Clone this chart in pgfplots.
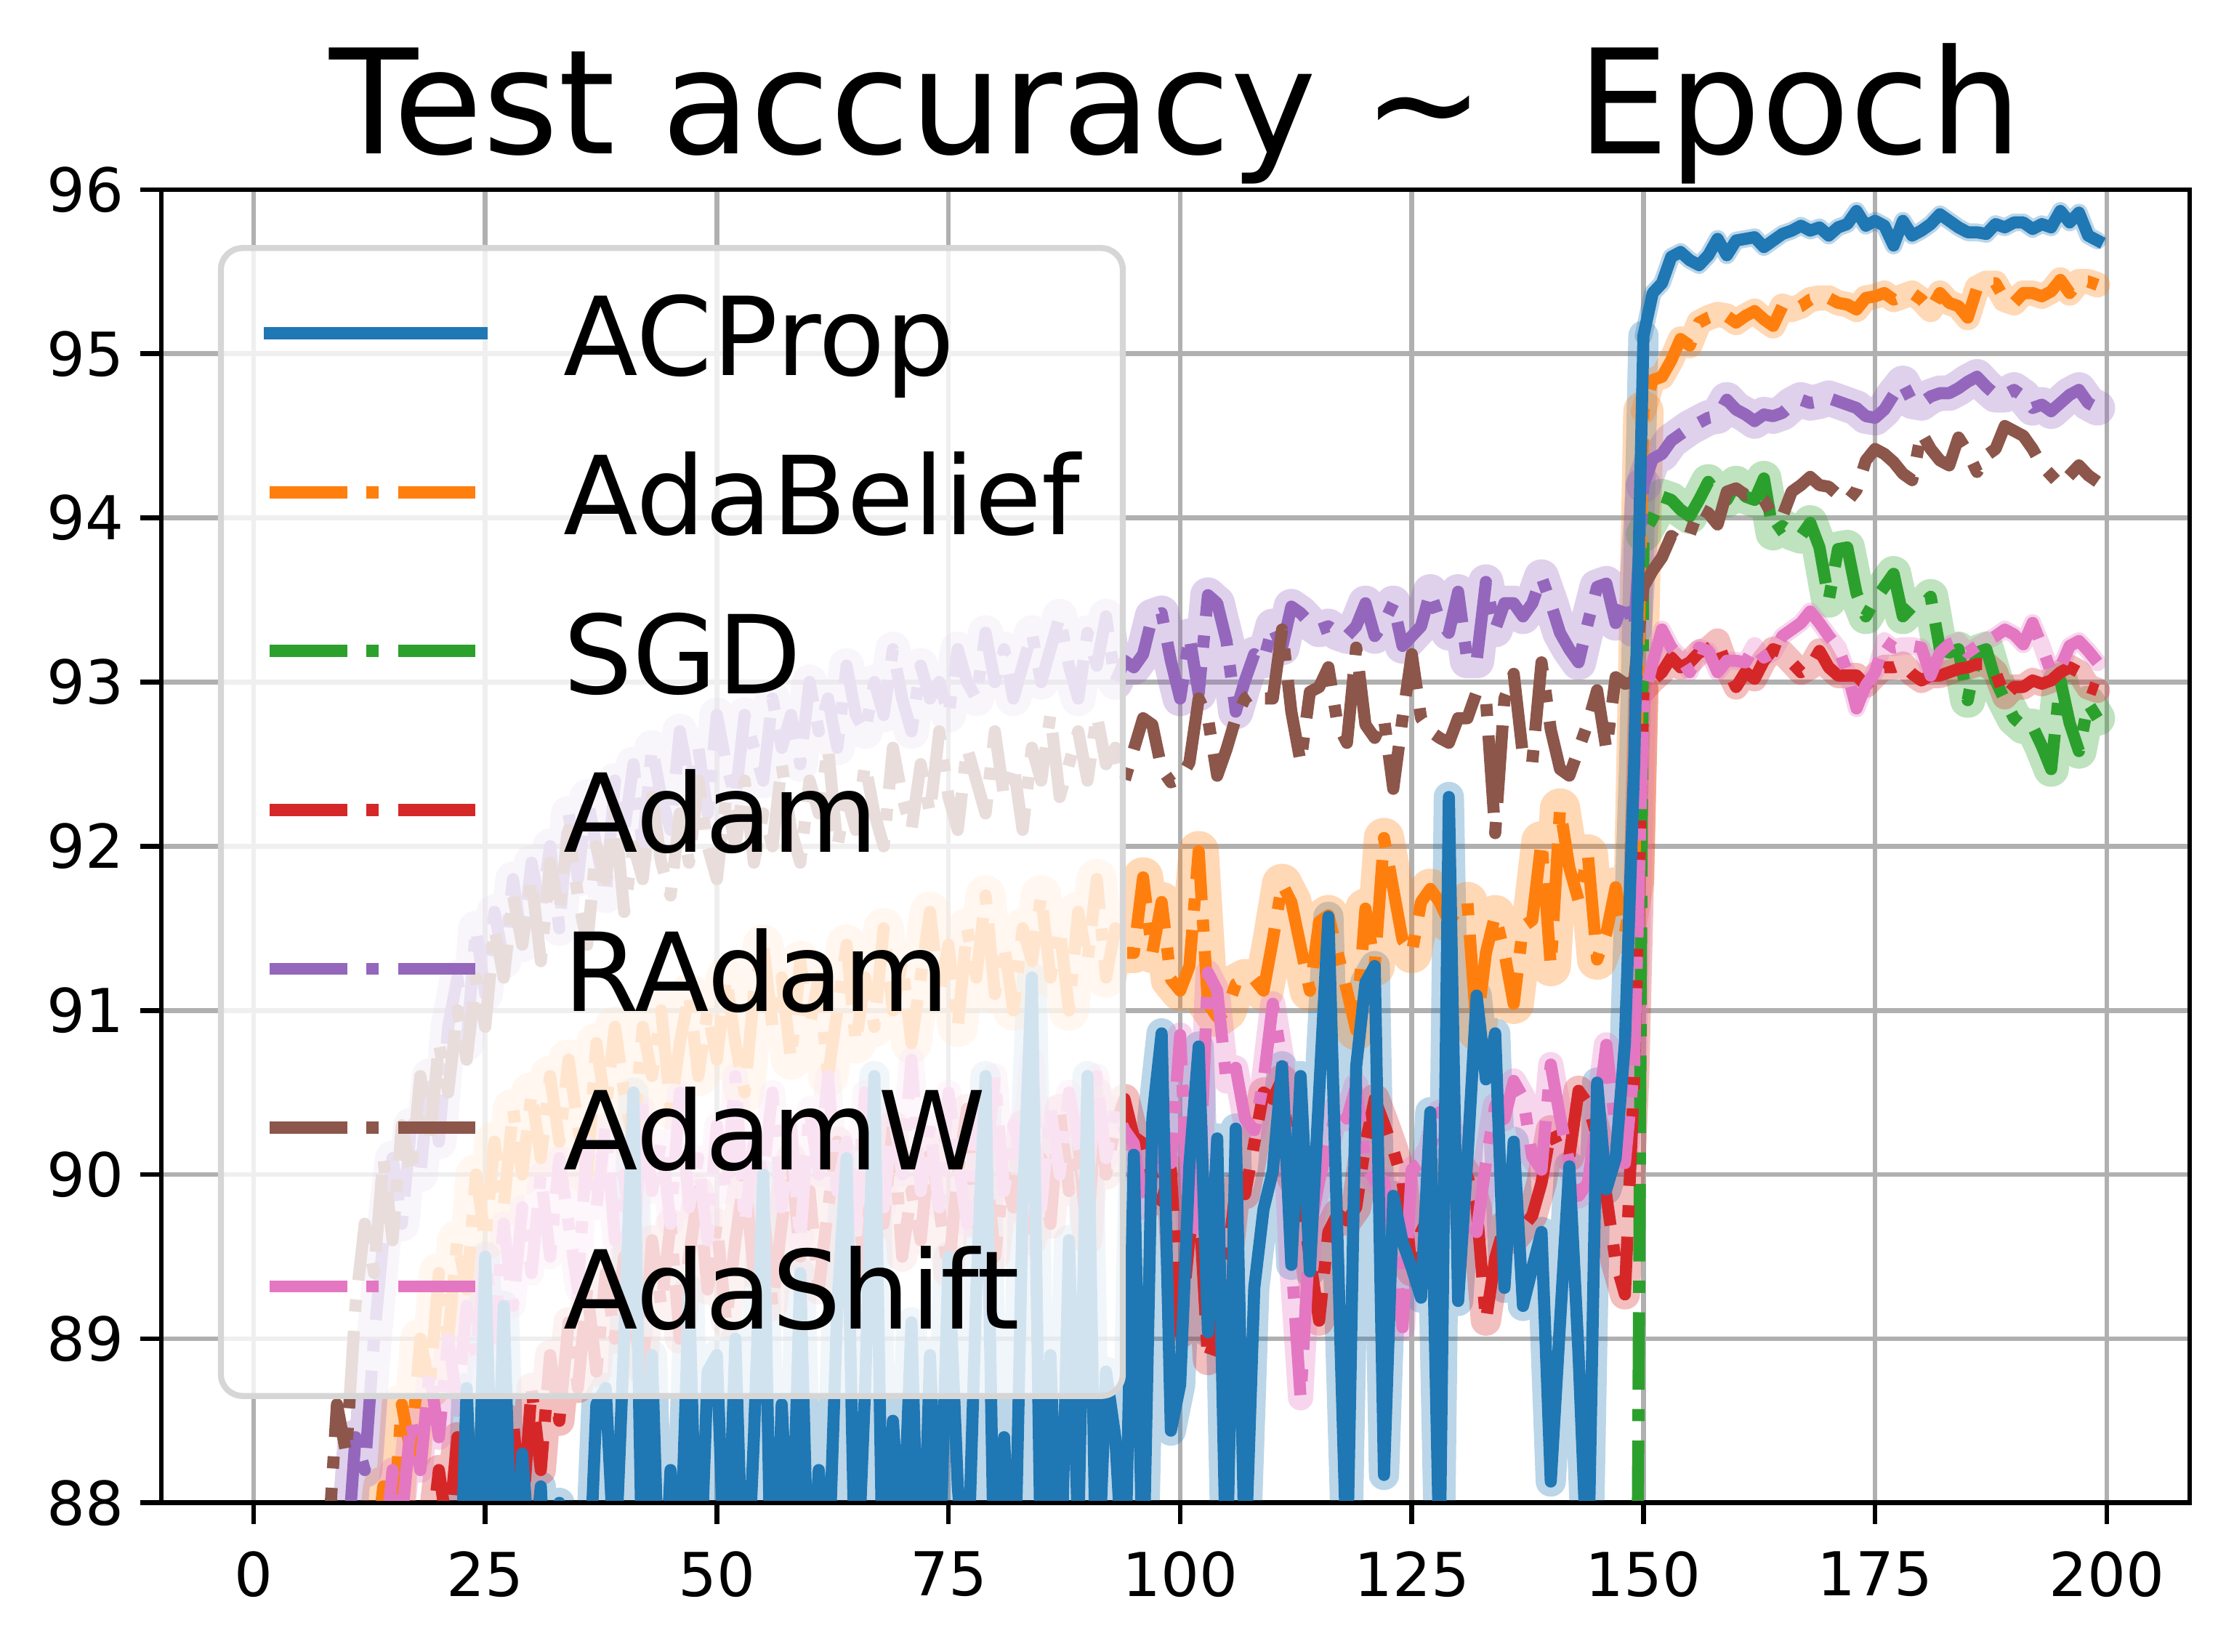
\documentclass[border=0pt]{standalone}
\usepackage{fontspec}
\setmainfont{DejaVu Sans}
\usepackage{pgfplots}
\pgfplotsset{compat=1.18}
\usepackage{pgfplotstable}
\definecolor{c0}{HTML}{1F77B4}
\definecolor{c1}{HTML}{FF7F0E}
\definecolor{c2}{HTML}{2CA02C}
\definecolor{c3}{HTML}{D62728}
\definecolor{c4}{HTML}{9467BD}
\definecolor{c5}{HTML}{8C564B}
\definecolor{c6}{HTML}{E377C2}
\definecolor{gridgray}{HTML}{B0B0B0}
\definecolor{legedge}{HTML}{D6D6D6}
\tikzset{
  dd/.style={line width=2.4pt, dash pattern=on 15.36pt off 3.84pt on 2.4pt off 3.84pt, line cap=butt, line join=round},
  solidl/.style={line width=2.4pt, line cap=rect, line join=round},
  band/.style={line join=round, line cap=round, draw opacity=0.3},
}
% e: epoch, a: ACProp, b: AdaBelief, s: SGD, d: Adam, r: RAdam, w: AdamW, h: AdaShift
\pgfplotstableread{
e a b s d r w h
0 60 65 nan 60 70 72 62
1 70 72 nan 68 75 77 70
2 74 76 nan 72 78 80 74
3 77 79 nan 75 80 82.5 77
4 79 81 nan 77.5 82 84 79.5
5 80.5 82.5 nan 79.5 83.5 85.5 81.3
6 81.5 83.7 nan 81 84.6 86.5 82.7
7 82.5 84.6 nan 82.3 85.5 87.3 83.8
8 83 85.3 nan 83.3 86.3 87.7 84.7
9 83.8 85.9 nan 84.1 87.0 88.6 85.4
10 84.2 86.4 nan 84.8 87.6 88.3 86.0
11 84.8 86.9 nan 85.4 88.4 89.2 86.5
12 85 87.3 nan 85.9 88.2 89.7 86.9
13 85.5 87.6 nan 86.3 89.0 89.4 87.3
14 85.7 88.1 nan 86.6 89.6 90.1 87.6
15 86 87.8 nan 86.9 90.1 89.6 88.2
16 86.2 88.6 nan 87.1 89.7 90.3 87.9
17 86.5 88.3 nan 87.3 90.3 90.0 88.5
18 86.3 89.0 nan 87.5 90.0 90.6 88.2
19 86.8 88.7 nan 87.7 90.6 90.2 88.8
20 86.6 89.4 nan 88.2 90.2 90.8 88.4
21 87.2 89.0 nan 87.8 90.9 90.5 89.0
22 86.9 89.6 nan 88.4 91.2 91.0 88.6
23 88.7 89.3 nan 88.0 90.8 90.7 89.2
24 87.2 90.0 nan 87.7 91.5 91.2 88.9
25 89.5 89.6 nan 88.3 91.1 90.9 89.5
26 87.4 90.2 nan 88.6 91.6 91.5 89.0
27 89.2 89.8 nan 88.0 91.3 91.2 89.7
28 87.3 90.4 nan 88.5 91.8 91.7 89.2
29 88.3 90.0 nan 87.9 91.4 91.4 89.8
30 87.5 90.5 nan 88.7 91.9 91.8 89.4
31 88.1 90.1 nan 88.2 91.6 91.3 90.0
32 86.9 90.6 nan 88.9 92.0 91.9 89.5
33 88.0 90.2 nan 88.5 91.5 91.6 90.1
34 87.3 90.7 nan 89.1 92.2 92.1 89.7
35 87.8 90.3 nan 88.7 91.8 91.7 89.3
36 87.2 90.0 nan 89.3 92.3 91.4 90.2
37 88.6 90.8 nan 88.8 92.0 92.0 89.8
38 88.7 90.4 nan 89.4 91.7 91.8 90.3
39 87.6 90.9 nan 89.0 92.4 92.2 89.6
40 89.0 90.5 nan 89.5 92.1 91.6 90.0
41 90.5 90.2 nan 89.1 92.5 92.0 89.5
42 87.4 90.9 nan 88.8 92.0 91.8 90.4
43 88.9 90.6 nan 89.6 92.6 92.3 89.9
44 87.0 91.0 nan 89.2 92.3 91.9 90.2
45 88.2 90.4 nan 89.7 92.1 91.7 89.7
46 87.5 90.8 nan 89.0 92.7 92.2 90.5
47 89.3 91.1 nan 89.5 92.4 91.9 89.8
48 87.2 90.6 nan 89.9 92.6 92.4 90.1
49 88.8 91.0 nan 89.3 92.2 92.0 89.6
50 88.9 90.7 nan 89.7 92.8 91.8 90.3
51 87.3 91.2 nan 89.1 92.5 92.3 89.9
52 89.0 90.8 nan 89.6 92.3 92.0 90.6
53 87.1 90.5 nan 90.0 92.8 92.4 89.7
54 88.4 91.1 nan 89.4 92.6 91.9 90.2
55 90.0 91.4 nan 89.8 92.4 92.2 90.0
56 87.0 90.9 nan 89.2 92.9 92.0 90.5
57 88.6 91.2 nan 89.7 92.6 92.5 89.8
58 87.4 90.7 nan 90.1 92.8 92.1 90.3
59 89.4 91.3 nan 89.5 92.5 91.9 89.6
60 87.2 90.9 nan 89.9 93.0 92.4 90.4
61 88.2 91.2 nan 89.3 92.7 92.2 90.0
62 87.5 90.6 nan 89.8 92.9 92.6 90.6
63 89.2 91.0 nan 90.2 92.6 92.0 89.9
64 90.1 91.4 nan 89.6 93.1 92.3 90.2
65 87.3 90.8 nan 89.9 92.8 92.1 89.7
66 88.7 91.2 nan 89.4 92.7 92.5 90.5
67 90.6 90.9 nan 90.1 93.0 92.2 90.1
68 87.2 91.5 nan 89.7 92.8 92.0 89.8
69 88.5 91.0 nan 90.3 93.2 92.6 90.4
70 87.6 91.3 nan 89.5 92.9 92.3 90.0
71 89.1 90.8 nan 89.9 92.7 92.1 90.7
72 87.0 91.2 nan 89.6 93.1 92.5 89.9
73 88.9 91.6 nan 90.2 92.9 92.2 90.3
74 87.5 91.1 nan 89.8 93.0 92.7 89.8
75 89.5 91.4 nan 89.4 92.8 92.3 90.5
76 88.1 90.9 nan 90.0 93.2 92.1 90.1
77 87.4 91.5 nan 90.4 93.0 92.6 89.7
78 89.3 91.2 nan 89.7 92.9 92.4 90.4
79 90.6 91.7 nan 90.1 93.3 92.2 90.0
80 87.3 91.1 nan 89.5 93.0 92.7 90.6
81 88.4 91.4 nan 90.0 93.2 92.3 89.9
82 87.1 91.0 nan 89.8 92.9 92.5 90.3
83 89.8 91.5 nan 90.3 93.1 92.1 90.1
84 91.2 91.3 nan 89.6 93.3 92.6 90.7
85 87.5 91.7 nan 90.1 93.0 92.4 89.8
86 88.9 91.2 nan 89.7 93.2 92.8 90.4
87 87.2 91.5 nan 90.4 93.4 92.3 90.0
88 89.6 91.0 nan 89.9 93.1 92.5 90.5
89 87.8 91.6 nan 90.2 92.9 92.7 90.2
90 90.6 91.3 nan 89.6 93.3 92.4 89.9
91 87.3 91.8 nan 90.5 93.1 92.8 90.6
92 88.8 91.2 nan 90.0 93.4 92.5 90.1
93 88.4 91.5 nan 90.3 93.0 92.6 90.4
94 87.4 91.35 nan 90.46 93.13 92.4 90.27
95 90.12 91.35 nan 90.23 93.09 92.59 90.19
96 87.5 91.81 nan 90.19 93.17 92.78 89.80
97 90.34 91.35 nan 89.99 93.40 92.74 89.99
98 90.86 91.66 nan 89.84 93.42 92.47 90.19
99 88.44 91.19 nan 90.03 93.13 92.39 90.07
100 88.72 91.12 nan 89.03 92.90 92.41 90.85
101 90.06 91.27 nan 89.61 93.28 92.51 89.61
102 90.78 91.97 nan 89.88 92.93 92.90 89.80
103 89.04 91.04 nan 88.87 93.53 92.78 91.23
104 90.22 90.96 nan 89.03 93.48 92.43 91.12
105 87.5 91.00 nan 89.41 93.25 92.59 90.57
106 90.28 91.16 nan 89.92 92.82 92.78 90.65
107 87.6 91.19 nan 89.88 93.01 92.90 90.34
108 89.31 91.19 nan 90.19 93.17 92.94 90.27
109 89.79 91.12 nan 90.50 93.13 92.90 90.57
110 90.02 91.43 nan 90.46 93.34 92.90 91.04
111 90.66 91.77 nan 90.58 93.21 93.32 90.69
112 89.45 91.66 nan 89.99 93.46 92.82 89.49
113 90.60 91.39 nan 89.88 93.42 92.51 88.64
114 89.41 91.12 nan 89.49 93.36 92.94 89.65
115 90.50 91.54 nan 89.11 93.32 92.97 89.96
116 91.57 91.58 nan 89.65 93.34 93.09 90.19
117 89.57 91.35 nan 89.76 93.30 92.74 90.42
118 87.6 91.12 nan 89.72 93.28 92.63 90.34
119 90.66 90.88 nan 89.80 93.34 93.21 90.54
120 91.17 91.62 nan 90.19 93.48 92.74 90.07
121 91.27 91.27 nan 90.46 93.28 92.66 89.96
122 88.17 92.05 nan 90.31 93.36 92.78 89.96
123 89.87 91.74 nan 90.15 93.48 92.35 89.61
124 89.59 91.43 nan 89.96 93.22 92.78 89.07
125 89.43 91.35 nan 89.41 93.28 93.17 90.03
126 89.25 91.66 nan 89.65 93.34 92.78 90.07
127 90.38 91.74 nan 89.76 93.55 92.70 90.15
128 87.6 91.66 nan 89.76 93.38 92.66 90.38
129 92.30 91.54 nan 90.03 93.30 92.63 90.34
130 89.23 91.62 nan 90.07 93.55 92.78 89.99
131 90.10 91.66 nan 89.99 93.13 92.78 89.72
132 91.09 90.88 nan 89.80 93.13 92.94 89.65
133 90.58 91.35 nan 89.11 93.61 92.90 90.07
134 90.86 91.58 nan 89.49 93.32 92.08 90.42
135 89.31 91.35 nan 89.69 93.48 92.90 90.34
136 90.20 91.04 nan 89.61 93.48 93.05 90.57
137 89.20 91.51 nan 89.68 93.40 92.55 90.47
138 89.43 91.55 nan 89.75 93.48 92.51 90.11
139 89.65 92.03 nan 89.95 93.64 93.12 90.03
140 88.13 91.27 nan 90.27 93.48 92.71 90.67
141 89.10 92.23 nan 90.15 93.30 92.47 90.35
142 90.05 91.87 nan 90.11 93.20 92.43 90.07
143 88.90 91.67 nan 90.51 93.12 92.59 89.87
144 87.5 91.95 nan 90.43 93.36 92.75 89.95
145 90.56 91.31 nan 90.23 93.58 92.95 90.35
146 89.91 91.47 nan 89.87 93.60 92.59 90.79
147 90.10 91.75 nan 89.47 93.36 93.03 90.27
148 90.80 91.47 nan 89.27 93.52 92.99 90.07
149 92.50 91.80 84.0 90.60 93.32 93.00 90.67
150 95.11 94.65 93.90 92.95 94.20 93.58 92.89
151 95.37 94.84 94.00 93.01 94.36 93.68 93.12
152 95.43 94.86 94.13 93.06 94.39 93.76 93.32
153 95.59 94.96 94.11 93.15 94.47 93.89 93.21
154 95.62 95.09 94.05 93.09 94.51 93.85 93.15
155 95.57 95.05 94.01 93.12 94.55 93.90 93.06
156 95.54 95.19 94.11 93.18 94.58 94.06 93.21
157 95.60 95.22 94.22 93.20 94.61 94.03 93.19
158 95.70 95.24 94.14 93.25 94.62 93.96 93.06
159 95.60 95.23 94.11 93.09 94.72 94.16 93.13
160 95.69 95.19 94.21 92.97 94.66 94.18 93.13
161 95.70 95.23 94.13 93.06 94.63 94.14 93.12
162 95.71 95.26 94.11 93.02 94.59 94.15 93.22
163 95.65 95.21 94.24 93.13 94.63 94.11 93.15
164 95.69 95.17 93.91 93.20 94.62 94.01 93.18
165 95.73 95.29 93.95 93.18 94.64 94.01 93.28
166 95.75 95.27 93.91 93.12 94.69 94.16 93.32
167 95.78 95.29 93.89 93.06 94.72 94.20 93.36
168 95.75 95.33 93.97 93.09 94.70 94.25 93.43
169 95.77 95.34 93.82 93.19 94.71 94.20 93.36
170 95.72 95.34 93.50 93.09 94.73 94.19 93.28
171 95.77 95.31 93.81 93.04 94.71 94.14 93.21
172 95.79 95.30 93.82 93.04 94.69 94.10 93.06
173 95.87 95.27 93.54 93.04 94.67 94.17 92.84
174 95.78 95.34 93.40 92.98 94.62 94.35 92.98
175 95.81 95.35 93.50 93.04 94.61 94.42 93.06
176 95.78 95.37 93.58 93.09 94.66 94.39 93.25
177 95.66 95.33 93.66 93.09 94.75 94.34 93.21
178 95.81 95.35 93.40 93.11 94.82 94.27 93.22
179 95.72 95.37 93.46 93.05 94.71 94.23 93.22
180 95.75 95.33 93.46 93.01 94.70 94.52 93.21
181 95.79 95.27 93.52 93.04 94.74 94.42 93.04
182 95.85 95.37 93.20 93.04 94.76 94.35 93.18
183 95.81 95.31 93.18 93.06 94.76 94.32 93.23
184 95.77 95.29 93.20 93.08 94.79 94.49 93.25
185 95.74 95.22 92.89 93.09 94.83 94.40 93.18
186 95.74 95.40 93.18 93.11 94.86 94.28 93.22
187 95.73 95.43 93.20 93.11 94.80 94.38 93.25
188 95.79 95.43 93.01 93.06 94.75 94.42 93.28
189 95.77 95.33 92.89 92.91 94.75 94.56 93.32
190 95.80 95.31 92.78 92.97 94.78 94.53 93.29
191 95.80 95.37 92.73 92.97 94.74 94.50 93.23
192 95.76 95.37 92.73 93.01 94.67 94.42 93.36
193 95.79 95.35 92.61 92.99 94.69 94.32 93.22
194 95.77 95.38 92.47 93.01 94.65 94.26 93.06
195 95.87 95.45 93.01 93.06 94.70 94.20 93.09
196 95.80 95.37 92.75 93.09 94.75 94.26 93.22
197 95.86 95.44 92.58 93.06 94.78 94.32 93.25
198 95.72 95.44 92.87 92.97 94.70 94.26 93.19
199 95.69 95.42 92.78 92.95 94.67 94.22 93.12
}\data
\begin{document}
\begin{tikzpicture}
\begin{axis}[
  name=ax, at={(0pt,0pt)}, anchor=south west,
  scale only axis, width=402.2pt, height=260.4pt,
  xmin=-9.95, xmax=208.95, ymin=88, ymax=96,
  xtick={0,25,50,75,100,125,150,175,200},
  ytick={88,89,90,91,92,93,94,95,96},
  no markers,
  grid=major,
  major grid style={draw=gridgray, line width=0.96pt},
  axis line style={line width=0.96pt},
  tick style={black, line width=0.96pt},
  tick align=outside, major tick length=4.2pt,
  tick pos=left,
  tick label style={font=\fontsize{12}{14}\selectfont},
  /pgf/number format/assume math mode=true,
  xticklabel style={inner sep=0pt, anchor=north, yshift=-5.3pt},
  yticklabel style={inner sep=0pt, anchor=east, xshift=-3pt},
  legend cell align=left,
  legend image code/.code={\draw[#1] (0pt,2.4pt) -- (42pt,2.4pt);},
  legend style={
    at={(axis description cs:0.02785,0.9578)}, anchor=north west,
    draw=legedge, line width=1.2pt, rounded corners=4.3pt,
    fill=white, fill opacity=0.8, text opacity=1,
    inner xsep=8.5pt, inner ysep=3.55pt,
    font=\fontsize{21.6}{21.6}\selectfont,
    row sep=0pt,
    nodes={inner sep=0pt, text height=21.75pt, text depth=9.75pt},
    /tikz/every odd column/.append style={column sep=15.1pt},
  },
]
% shaded bands
\addplot[draw=c0, band, line width=6pt, restrict x to domain=0:150, forget plot] table[x=e,y=a]{\data};
\addplot[draw=c0, band, line width=3.5pt, restrict x to domain=150:199, forget plot] table[x=e,y=a]{\data};
\addplot[draw=c1, band, line width=8pt, restrict x to domain=0:150, forget plot] table[x=e,y=b]{\data};
\addplot[draw=c1, band, line width=5pt, restrict x to domain=150:199, forget plot] table[x=e,y=b]{\data};
\addplot[draw=c2, band, line width=7pt, restrict x to domain=150:199, forget plot] table[x=e,y=s]{\data};
\addplot[draw=c3, band, line width=6pt, restrict x to domain=0:150, forget plot] table[x=e,y=d]{\data};
\addplot[draw=c3, band, line width=5pt, restrict x to domain=150:199, forget plot] table[x=e,y=d]{\data};
\addplot[draw=c4, band, line width=7pt, restrict x to domain=0:150, forget plot] table[x=e,y=r]{\data};
\addplot[draw=c4, band, line width=7pt, restrict x to domain=150:199, forget plot] table[x=e,y=r]{\data};
\addplot[draw=c6, band, line width=5pt, restrict x to domain=0:150, forget plot] table[x=e,y=h]{\data};
\addplot[draw=c6, band, line width=3.5pt, restrict x to domain=150:199, forget plot] table[x=e,y=h]{\data};
% mean curves
\addplot[c2, dd, forget plot] table[x=e,y=s]{\data};
\addplot[c1, dd, forget plot] table[x=e,y=b]{\data};
\addplot[c3, dd, forget plot] table[x=e,y=d]{\data};
\addplot[c6, dd, forget plot] table[x=e,y=h]{\data};
\addplot[c4, dd, forget plot] table[x=e,y=r]{\data};
\addplot[c5, dd, forget plot] table[x=e,y=w]{\data};
\addplot[c0, solidl, forget plot] table[x=e,y=a]{\data};
% legend
\addlegendimage{c0, solidl}\addlegendentry{ACProp}
\addlegendimage{c1, dd}\addlegendentry{AdaBelief}
\addlegendimage{c2, dd}\addlegendentry{SGD}
\addlegendimage{c3, dd}\addlegendentry{Adam}
\addlegendimage{c4, dd}\addlegendentry{RAdam}
\addlegendimage{c5, dd}\addlegendentry{AdamW}
\addlegendimage{c6, dd}\addlegendentry{AdaShift}
\end{axis}
\draw[line width=0.96pt] (ax.south west) rectangle (ax.north east);
\node[anchor=base, yshift=7.2pt, font=\fontsize{28.8}{30}\selectfont] at (ax.north) {Test accuracy ∼\ \ Epoch};
\pgfresetboundingbox
\useasboundingbox (-32pt,-29.5pt) rectangle (411pt,298pt);
\end{tikzpicture}
\end{document}
